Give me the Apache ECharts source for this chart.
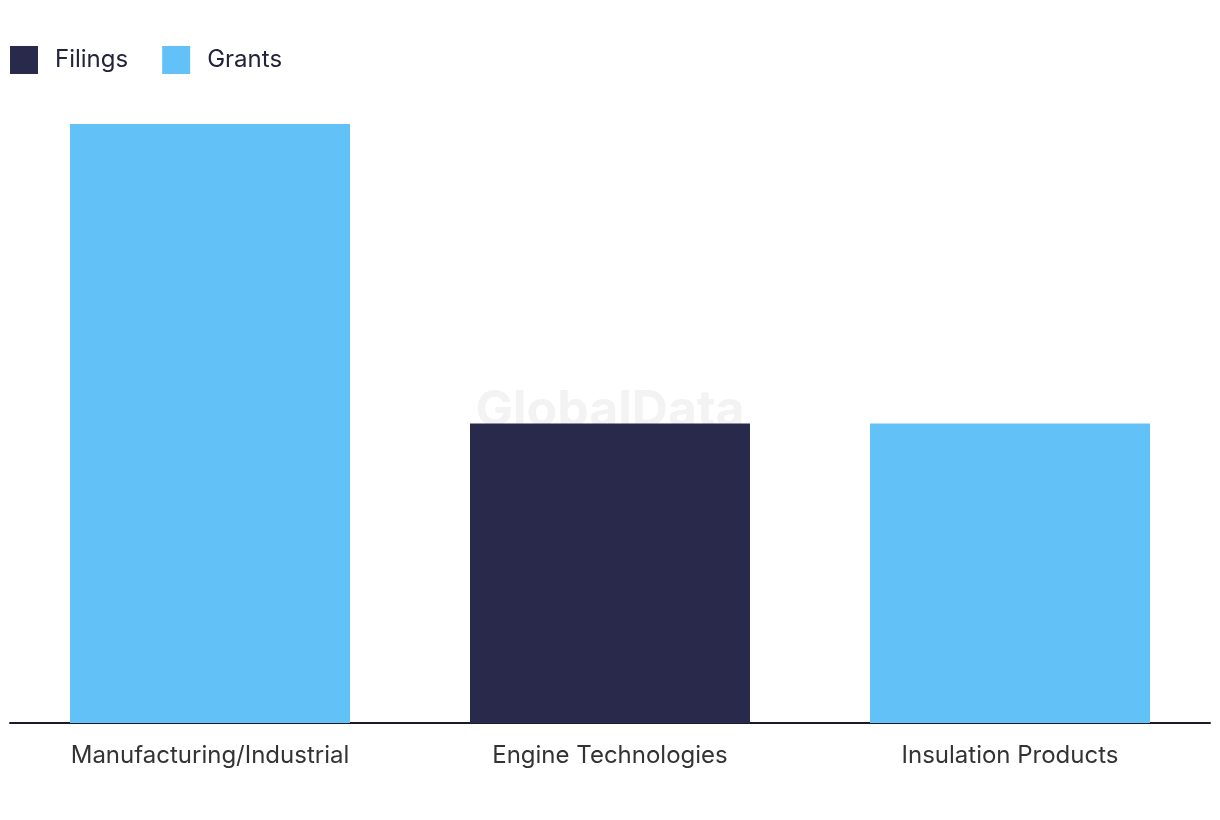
<!DOCTYPE html>
<html>
<head>
<meta charset="utf-8">
<script src="https://cdn.jsdelivr.net/npm/echarts@6/dist/echarts.min.js"></script>
<style>
  html, body { margin: 0; padding: 0; background: #fff; }
  #chart { width: 1220px; height: 820px; }
</style>
</head>
<body>
<div id="chart"></div>
<script>
// categories and values
var categories = ['Manufacturing/Industrial', 'Engine Technologies', 'Insulation Products'];
var filings = [0, 1, 0];
var grants = [2, 0, 1];

var chart = echarts.init(document.getElementById('chart'));

var option = {
  animation: false,
  textStyle: { fontFamily: 'Inter' },
  graphic: [{
    type: 'text',
    left: 'center',
    top: 386,
    z: -10,
    style: {
      text: 'GlobalData',
      fontSize: 50,
      fontWeight: 'bold',
      fontFamily: 'Inter',
      fill: '#f3f3f3'
    }
  }],
  legend: {
    left: 5,
    top: 41,
    itemWidth: 28,
    itemHeight: 28,
    itemGap: 34,
    icon: 'rect',
    data: ['Filings', 'Grants'],
    textStyle: { fontSize: 24, color: '#22223a', padding: [0, 0, 0, 12] }
  },
  grid: { left: 10, right: 10, top: 124, bottom: 97 },
  xAxis: {
    type: 'category',
    data: categories,
    axisTick: { show: false },
    axisLine: { lineStyle: { color: '#1a1a2e', width: 2 } },
    axisLabel: { fontSize: 24, color: '#333', margin: 21 }
  },
  yAxis: {
    type: 'value',
    min: 0,
    max: 2,
    show: false,
    splitLine: { show: false }
  },
  series: [
    {
      name: 'Filings',
      type: 'bar',
      stack: 'total',
      barWidth: '70%',
      itemStyle: { color: '#28294b' },
      data: filings
    },
    {
      name: 'Grants',
      type: 'bar',
      stack: 'total',
      barWidth: '70%',
      itemStyle: { color: '#62c2f8' },
      data: grants
    }
  ]
};

chart.setOption(option);
</script>
</body>
</html>
